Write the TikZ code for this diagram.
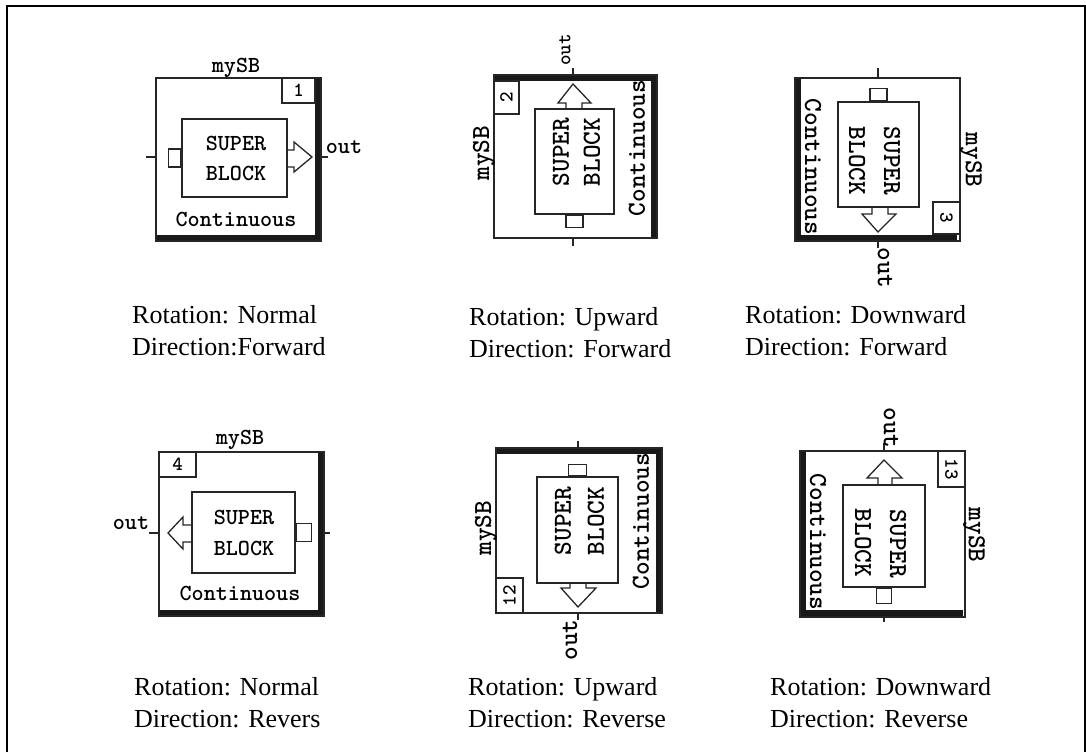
\documentclass[tikz,border=0pt]{standalone}
\usepackage{fontspec}
\setmainfont{Liberation Serif}
\usetikzlibrary{positioning}
\tikzset{
    sbline/.style={line width=1.3pt, draw=black!85},
    sbouter/.style={sbline, minimum width=165pt, minimum height=163pt, inner sep=0pt},
    sbinner/.style={sbline, inner sep=0pt},
    sbindex/.style={sbline, inner sep=0pt, font=\fontsize{20}{20}\ttfamily\bfseries},
    sbport/.style={sbline, inner sep=0pt},
    sbheavy/.style={fill=black!90},
    sbtext/.style={inner sep=0pt, font=\fontsize{23}{23}\ttfamily\bfseries},
    sbtextrot/.style={inner sep=0pt, font=\fontsize{26}{26}\ttfamily\bfseries},
    caption/.style={inner sep=0pt, anchor=north west, align=left, font=\fontsize{26}{32}\selectfont}
}
\begin{document}
\begin{tikzpicture}[x=1pt, y=-1pt]
    \useasboundingbox (0,0) rectangle (1086,752);
    \draw[line width=2pt] (7,752) -- (7,6) -- (1085,6) -- (1085,752);

    % Normal, forward
    \fill[sbheavy] (315,78) rectangle (321,241);
    \fill[sbheavy] (156,235) rectangle (321,241);
    \node[sbouter] (sb1) at (238.5,159.5) {};
    \node[sbinner, minimum width=105pt, minimum height=78pt] (inner1) at (234.5,158) {};
    \node[sbindex, minimum width=33pt, minimum height=25pt] (index1) at (298.5,90.5) {1};
    \node[sbport, minimum width=12pt, minimum height=18pt, left=0pt of inner1] (port1) {};
    \coordinate (in1) at (146,157);
    \coordinate[right=6pt of sb1.east |- in1] (out1);
    \draw[sbline] (in1) -- (sb1.west |- in1);
    \draw[sbline] (sb1.east |- in1) -- (out1);
    \draw[sbline] (287,150) -- (294,150) -- (294,142) -- (312,157) -- (294,172) -- (294,167) -- (287,167);
    \node[sbtext] (name1) at (236,68) {mySB};
    \node[sbtext] (super1) at (236,143) {SUPER};
    \node[sbtext] (block1) at (236,173) {BLOCK};
    \node[sbtext] (mode1) at (236,219) {Continuous};
    \node[sbtext] (label1) at (344,147) {out};
    \node[caption] (cap1) at (132,305.5) {Rotation: Normal\\Direction:Forward};

    % Upward, forward
    \fill[sbheavy] (494,75) rectangle (657,81);
    \fill[sbheavy] (651,75) rectangle (657,238);
    \node[sbouter, minimum width=163pt, minimum height=163pt] (sb2) at (575.5,156.5) {};
    \node[sbinner, minimum width=79pt, minimum height=105pt] (inner2) at (574.5,161.5) {};
    \node[sbindex, minimum width=33pt, minimum height=25pt, rotate=90] (index2) at (506.5,97.5) {2};
    \node[sbport, minimum width=17pt, minimum height=12pt, below=0pt of inner2] (port2) {};
    \coordinate (in2) at (573,246);
    \coordinate (out2) at (573,68);
    \draw[sbline] (in2) -- (in2 |- sb2.south);
    \draw[sbline] (out2 |- sb2.north) -- (out2);
    \draw[sbline] (566,109) -- (566,103) -- (558,103) -- (573,84) -- (591,103) -- (582,103) -- (582,109);
    \node[sbtextrot, rotate=90] (name2) at (484,153) {mySB};
    \node[sbtextrot, rotate=90] (super2) at (561,152) {SUPER};
    \node[sbtextrot, rotate=90] (block2) at (592,152) {BLOCK};
    \node[sbtextrot, rotate=90] (mode2) at (637,148) {Continuous};
    \node[sbtextrot, rotate=90, font=\fontsize{20}{20}\ttfamily\bfseries] (label2) at (565,50) {out};
    \node[caption] (cap2) at (469,307.5) {Rotation: Upward\\Direction: Forward};

    % Downward, forward
    \fill[sbheavy] (795,78) rectangle (801,241);
    \fill[sbheavy] (795,235) rectangle (957,241);
    \node[sbouter] (sb3) at (877.5,159.5) {};
    \node[sbinner, minimum width=81pt, minimum height=105pt] (inner3) at (878.5,154.5) {};
    \node[sbindex, minimum width=32pt, minimum height=27pt, rotate=-90] (index3) at (946.5,218) {3};
    \node[sbport, minimum width=17pt, minimum height=12pt, above=0pt of inner3] (port3) {};
    \coordinate (in3) at (878,68);
    \coordinate (out3) at (878,248);
    \draw[sbline] (in3) -- (in3 |- sb3.north);
    \draw[sbline] (out3 |- sb3.south) -- (out3);
    \draw[sbline] (872,207) -- (872,214) -- (862,214) -- (878,232) -- (896,214) -- (888,214) -- (888,207);
    \node[sbtextrot, rotate=-90] (name3) at (971,160) {mySB};
    \node[sbtextrot, rotate=-90] (super3) at (892,161) {SUPER};
    \node[sbtextrot, rotate=-90] (block3) at (857,161) {BLOCK};
    \node[sbtextrot, rotate=-90] (mode3) at (813,167) {Continuous};
    \node[sbtextrot, rotate=-90] (label3) at (885,268) {out};
    \node[caption] (cap3) at (745,305.5) {Rotation: Downward\\Direction: Forward};

    % Normal, reverse
    \fill[sbheavy] (318,452) rectangle (324,616);
    \fill[sbheavy] (159,610) rectangle (324,616);
    \node[sbouter, minimum height=164pt] (sb4) at (241.5,534) {};
    \node[sbinner, minimum width=103pt, minimum height=81pt] (inner4) at (243.5,532.5) {};
    \node[sbindex, minimum width=37pt, minimum height=25pt] (index4) at (177.5,464.5) {4};
    \node[sbport, minimum width=15pt, minimum height=18pt, right=0pt of inner4] (port4) {};
    \coordinate (in4) at (330,533);
    \coordinate (out4) at (149,533);
    \draw[sbline] (in4) -- (sb4.east |- in4);
    \draw[sbline] (sb4.west |- in4) -- (out4);
    \draw[sbline] (192,525) -- (183,525) -- (183,517) -- (168,533) -- (183,549) -- (183,542) -- (192,542);
    \node[sbtext] (name4) at (240,440) {mySB};
    \node[sbtext] (super4) at (244,517) {SUPER};
    \node[sbtext] (block4) at (244,548) {BLOCK};
    \node[sbtext] (mode4) at (240,593) {Continuous};
    \node[sbtext] (label4) at (131,523) {out};
    \node[caption] (cap4) at (134,677) {Rotation: Normal\\Direction: Revers};

    % Upward, reverse
    \fill[sbheavy] (496,448) rectangle (662,454);
    \fill[sbheavy] (656,448) rectangle (662,613);
    \node[sbouter, minimum width=166pt, minimum height=165pt] (sb5) at (579,530.5) {};
    \node[sbinner, minimum width=81pt, minimum height=106pt] (inner5) at (577.5,530) {};
    \node[sbindex, minimum width=35pt, minimum height=27pt, rotate=90] (index5) at (509.5,595.5) {12};
    \node[sbport, minimum width=18pt, minimum height=11pt, above=0pt of inner5] (port5) {};
    \coordinate (in5) at (578,441);
    \coordinate (out5) at (578,620);
    \draw[sbline] (in5) -- (in5 |- sb5.north);
    \draw[sbline] (out5 |- sb5.south) -- (out5);
    \draw[sbline] (570,583) -- (570,588) -- (561,588) -- (578,607) -- (596,588) -- (586,588) -- (586,583);
    \node[sbtextrot, rotate=90] (name5) at (486,528) {mySB};
    \node[sbtextrot, rotate=90] (super5) at (563,521) {SUPER};
    \node[sbtextrot, rotate=90] (block5) at (596,521) {BLOCK};
    \node[sbtextrot, rotate=90] (mode5) at (641,521) {Continuous};
    \node[sbtextrot, rotate=90] (label5) at (570,640) {out};
    \node[caption] (cap5) at (468,677) {Rotation: Upward\\Direction: Reverse};

    % Downward, reverse
    \fill[sbheavy] (800,451) rectangle (806,617);
    \fill[sbheavy] (800,610) rectangle (963,617);
    \node[sbouter, minimum width=165pt, minimum height=166pt] (sb6) at (882.5,534) {};
    \node[sbinner, minimum width=82pt, minimum height=102pt] (inner6) at (884,536) {};
    \node[sbindex, minimum width=36pt, minimum height=27pt, rotate=-90] (index6) at (951.5,469) {13};
    \node[sbport, minimum width=15pt, minimum height=15pt, below=0pt of inner6] (port6) {};
    \coordinate (in6) at (884,622);
    \coordinate (out6) at (884,443);
    \draw[sbline] (in6) -- (in6 |- sb6.south);
    \draw[sbline] (out6 |- sb6.north) -- (out6);
    \draw[sbline] (878,485) -- (878,478) -- (867,478) -- (884,460) -- (902,478) -- (892,478) -- (892,485);
    \node[sbtextrot, rotate=-90] (name6) at (974,535) {mySB};
    \node[sbtextrot, rotate=-90] (super6) at (898,544) {SUPER};
    \node[sbtextrot, rotate=-90] (block6) at (863,543) {BLOCK};
    \node[sbtextrot, rotate=-90] (mode6) at (818,542) {Continuous};
    \node[sbtextrot, rotate=-90] (label6) at (891,428) {out};
    \node[caption] (cap6) at (770,677) {Rotation: Downward\\Direction: Reverse};
\end{tikzpicture}
\end{document}
